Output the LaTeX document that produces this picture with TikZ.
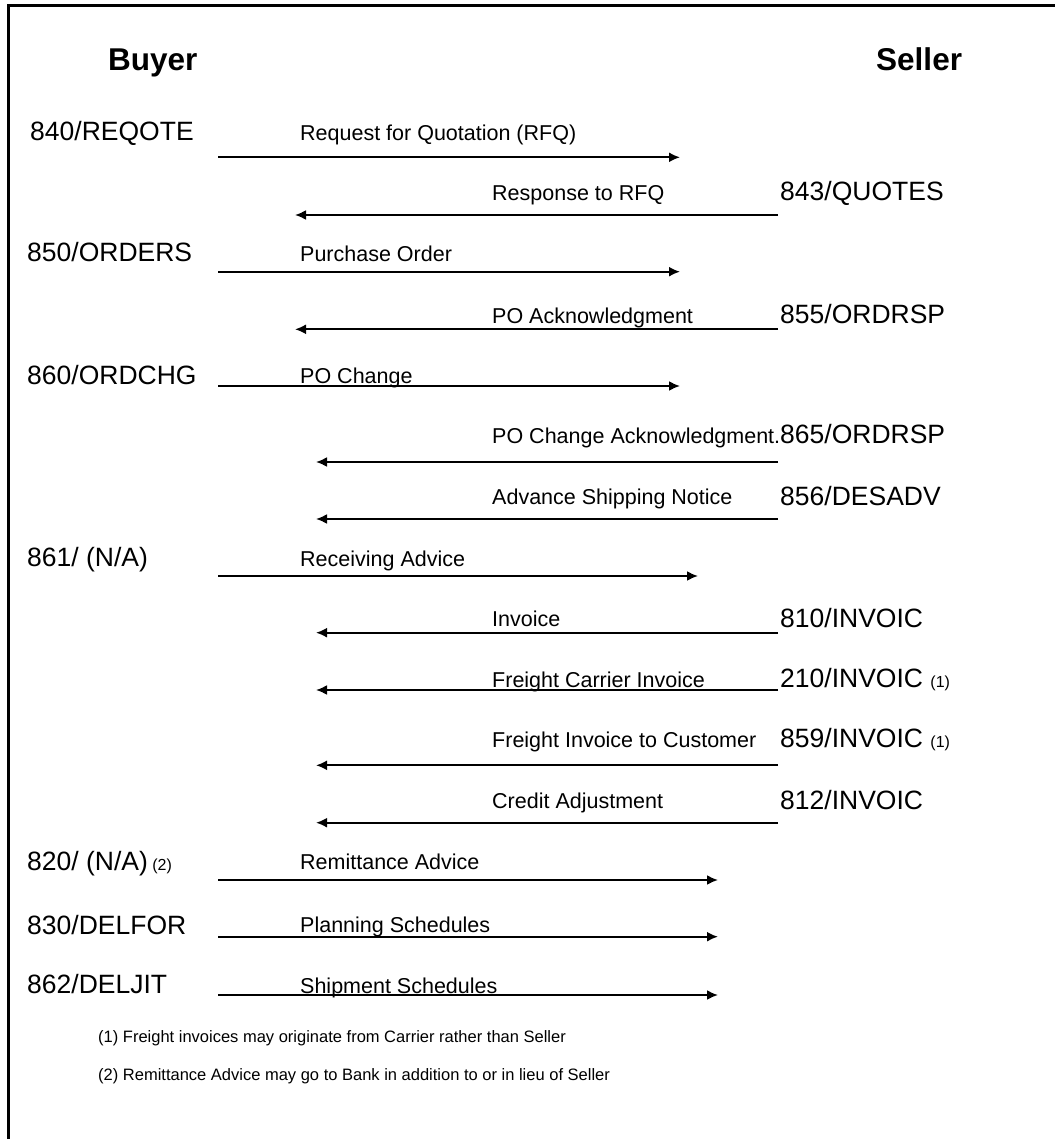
\documentclass[tikz,border=0pt]{standalone}
\usepackage{fontspec}
\setmainfont{Liberation Sans}
\usetikzlibrary{arrows.meta}

\newcommand{\refmark}[1]{{\fontsize{16}{18}\selectfont(#1)}}

\begin{document}
\begin{tikzpicture}[
  x=1pt, y=-1pt,
  party/.style={anchor=base west, inner sep=0pt, font=\fontsize{31.5}{36}\selectfont\bfseries},
  code/.style={anchor=base west, inner sep=0pt, font=\fontsize{26.5}{30}\selectfont},
  msgtext/.style={anchor=base west, inner sep=0pt, font=\fontsize{21.5}{26}\selectfont},
  note/.style={anchor=base west, inner sep=0pt, font=\fontsize{16.5}{20}\selectfont},
  msg/.style={line width=2pt, -{Latex[length=11pt, width=10pt]}}
]
\useasboundingbox (0,0) rectangle (1055,1139);
\draw [line width=2.5pt] (8.7,1139) -- (8.7,5.7) -- (1055,5.7);

% parties
\node [party] (buyer) at (108,71) {Buyer};
\node [party] (seller) at (876,71) {Seller};

% buyer side codes
\node [code] (c840) at (30,140.5) {840/REQOTE};
\node [code] (c850) at (27,262) {850/ORDERS};
\node [code] (c860) at (27,384) {860/ORDCHG};
\node [code] (c861) at (27,566) {861/ (N/A)};
\node [code] (c820) at (27,870.5) {820/ (N/A)\,\refmark{2}};
\node [code] (c830) at (27,934) {830/DELFOR};
\node [code] (c862) at (27,993.5) {862/DELJIT};

% seller side codes
\node [code] (c843) at (780,200.5) {843/QUOTES};
\node [code] (c855) at (780,323.5) {855/ORDRSP};
\node [code] (c865) at (780,443.5) {865/ORDRSP};
\node [code] (c856) at (780,505) {856/DESADV};
\node [code] (c810) at (780,627) {810/INVOIC};
\node [code] (c210) at (780,687.5) {210/INVOIC \refmark{1}};
\node [code] (c859) at (780,747.5) {859/INVOIC \refmark{1}};
\node [code] (c812) at (780,809) {812/INVOIC};

% message names
\node [msgtext] (l-rfq) at (300,140.5) {Request for Quotation (RFQ)};
\node [msgtext] (l-resp) at (492,200.5) {Response to RFQ};
\node [msgtext] (l-po) at (300,262) {Purchase Order};
\node [msgtext] (l-poack) at (492,323.7) {PO Acknowledgment};
\node [msgtext] (l-chg) at (300,383.7) {PO Change};
\node [msgtext] (l-chgack) at (492,443.5) {PO Change Acknowledgment.};
\node [msgtext] (l-asn) at (492,504) {Advance Shipping Notice};
\node [msgtext] (l-recv) at (300,566.5) {Receiving Advice};
\node [msgtext] (l-inv) at (492,626.7) {Invoice};
\node [msgtext] (l-frt) at (492,687) {Freight Carrier Invoice};
\node [msgtext] (l-frtc) at (492,747) {Freight Invoice to Customer};
\node [msgtext] (l-cred) at (492,808.7) {Credit Adjustment};
\node [msgtext] (l-remit) at (300,869.5) {Remittance Advice};
\node [msgtext] (l-plan) at (300,932.5) {Planning Schedules};
\node [msgtext] (l-ship) at (300,993.7) {Shipment Schedules};

% arrows
\coordinate (rfq-b) at (218,157.3); \coordinate (rfq-s) at (680,157.3);
\coordinate (resp-s) at (778,215); \coordinate (resp-b) at (295,215);
\coordinate (po-b) at (218,271.7); \coordinate (po-s) at (680,271.7);
\coordinate (poack-s) at (778,329.3); \coordinate (poack-b) at (295,329.3);
\coordinate (chg-b) at (218,386); \coordinate (chg-s) at (680,386);
\coordinate (chgack-s) at (778,462); \coordinate (chgack-b) at (316,462);
\coordinate (asn-s) at (778,519); \coordinate (asn-b) at (316,519);
\coordinate (recv-b) at (218,576); \coordinate (recv-s) at (698,576);
\coordinate (inv-s) at (778,632.7); \coordinate (inv-b) at (316,632.7);
\coordinate (frt-s) at (778,690); \coordinate (frt-b) at (316,690);
\coordinate (frtc-s) at (778,765.3); \coordinate (frtc-b) at (316,765.3);
\coordinate (cred-s) at (778,822.7); \coordinate (cred-b) at (316,822.7);
\coordinate (remit-b) at (218,880); \coordinate (remit-s) at (718,880);
\coordinate (plan-b) at (218,936.7); \coordinate (plan-s) at (718,936.7);
\coordinate (ship-b) at (218,995); \coordinate (ship-s) at (718,995);

\draw [msg] (rfq-b) -- (rfq-s);
\draw [msg] (resp-s) -- (resp-b);
\draw [msg] (po-b) -- (po-s);
\draw [msg] (poack-s) -- (poack-b);
\draw [msg] (chg-b) -- (chg-s);
\draw [msg] (chgack-s) -- (chgack-b);
\draw [msg] (asn-s) -- (asn-b);
\draw [msg] (recv-b) -- (recv-s);
\draw [msg] (inv-s) -- (inv-b);
\draw [msg] (frt-s) -- (frt-b);
\draw [msg] (frtc-s) -- (frtc-b);
\draw [msg] (cred-s) -- (cred-b);
\draw [msg] (remit-b) -- (remit-s);
\draw [msg] (plan-b) -- (plan-s);
\draw [msg] (ship-b) -- (ship-s);

% footnotes
\node [note] (note1) at (98,1042) {(1) Freight invoices may originate from Carrier rather than Seller};
\node [note] (note2) at (98,1080) {(2) Remittance Advice may go to Bank in addition to or in lieu of Seller};
\end{tikzpicture}
\end{document}
